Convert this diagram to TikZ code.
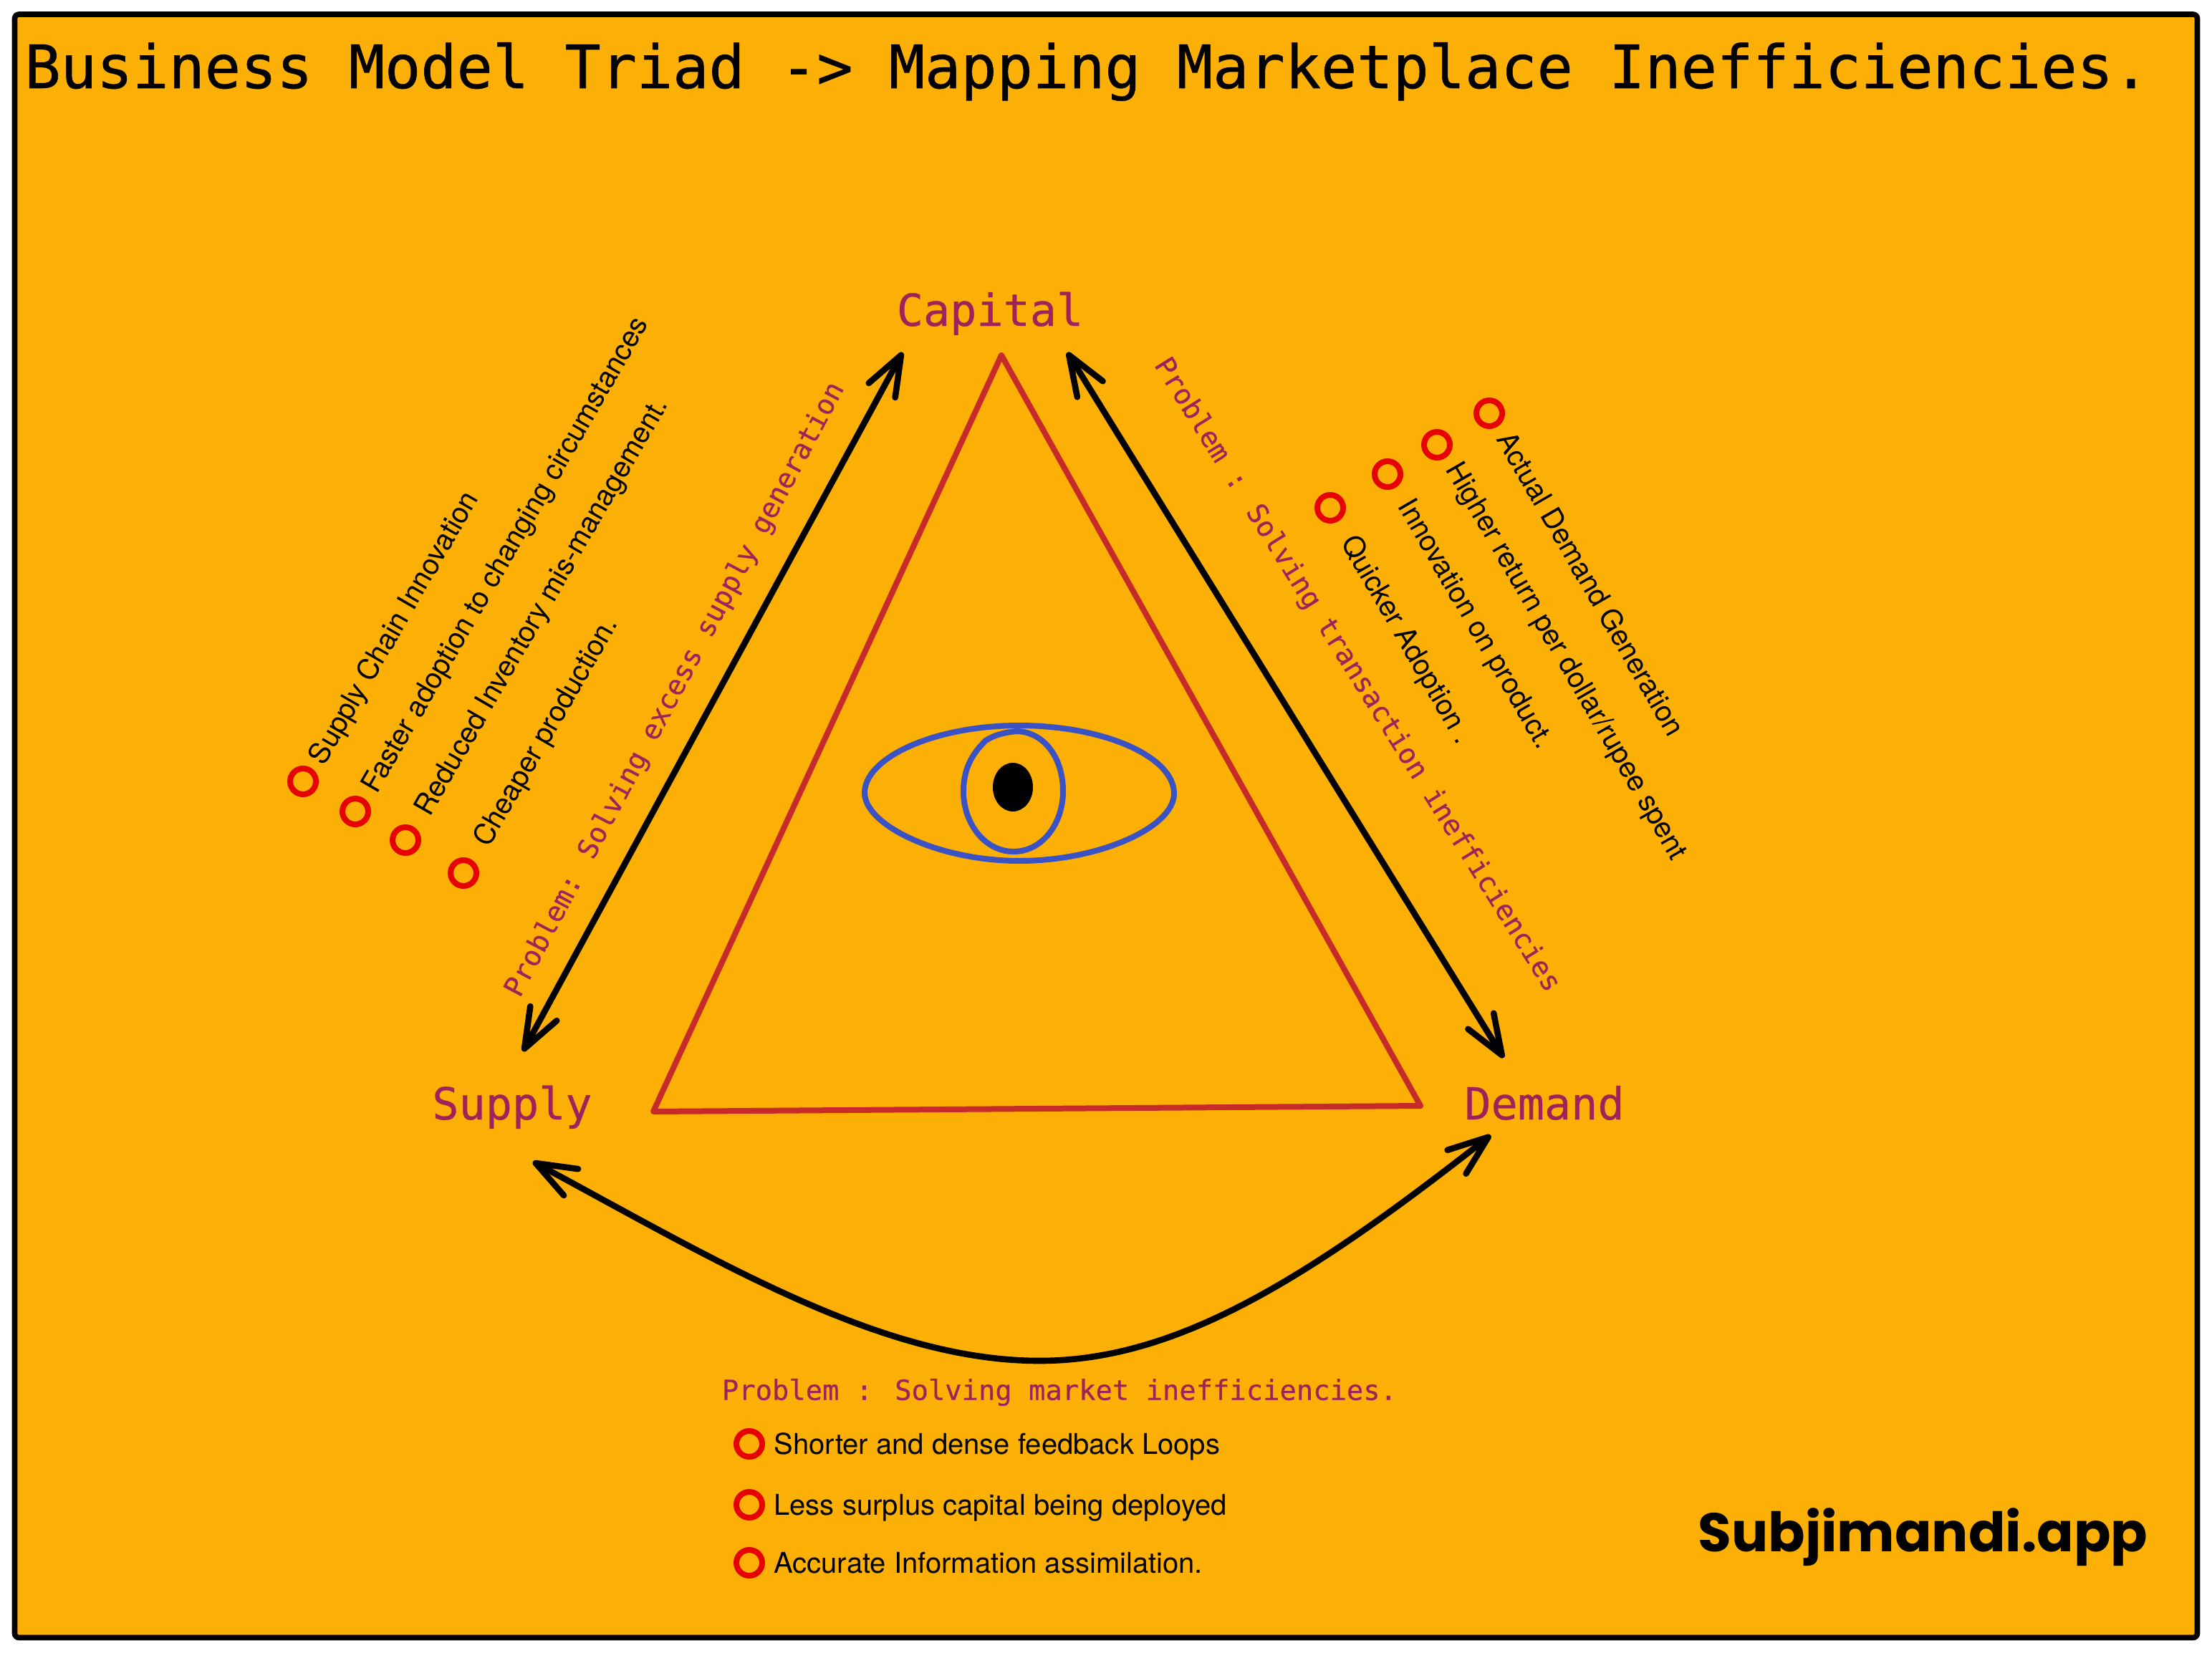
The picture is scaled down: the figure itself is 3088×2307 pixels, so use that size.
\documentclass[tikz,border=0pt]{standalone}
\usepackage{fontspec}
\setmainfont{TeX Gyre Heros}
\setmonofont{DejaVu Sans Mono}
\newfontfamily\brandfont{Poppins}
\newfontfamily\headmono[FakeBold=0.7]{DejaVu Sans Mono}
\newfontfamily\labelmono[FakeBold=0.5]{DejaVu Sans Mono}
\usetikzlibrary{arrows.meta}
\definecolor{pagefill}{HTML}{FCB005}
\definecolor{labelred}{HTML}{A0225A}
\definecolor{triangred}{HTML}{C62B2A}
\definecolor{eyeblue}{HTML}{3A52C4}
\definecolor{ringred}{HTML}{E60000}
\tikzset{
  x=0.5pt, y=-0.5pt,
  frame/.style={draw=black, line width=3.8pt, fill=pagefill, rounded corners=3pt},
  titletext/.style={font=\headmono\fontsize{41.75}{50}\selectfont, anchor=base west, inner sep=0pt},
  corner/.style={font=\labelmono\fontsize{30.9}{36}\selectfont, text=labelred, inner sep=0pt,
    text height=23.5pt, text depth=6.5pt},
  problem/.style={font=\labelmono\fontsize{19.4}{24}\selectfont, text=labelred, inner sep=0pt},
  item/.style={font=\fontsize{20}{24}\selectfont, text=black, inner sep=0pt,
    text height=14.5pt, text depth=4.3pt},
  rowitem/.style={item, anchor=west},
  ring/.style={circle, draw=ringred, line width=4pt, minimum size=18pt, inner sep=0pt},
  link/.style={draw=black, line width=4.3pt, line cap=round,
    {Straight Barb[length=28pt,width=21pt,round]}-{Straight Barb[length=28pt,width=21pt,round]}},
  triangle/.style={draw=triangred, line width=4pt, line join=round},
  eye/.style={draw=eyeblue, line width=4pt},
}
\begin{document}
\begin{tikzpicture}
  \useasboundingbox (0,0) rectangle (3088,2307);
  \fill[white] (0,0) rectangle (3088,2307);
  \path[frame] (20.5,20) rectangle (3067.5,2286.5);

  % heading and signature
  \node[titletext] (title) at (34,123) {Business Model Triad -> Mapping Marketplace Inefficiencies.};
  \node[anchor=base west, inner sep=0pt, font=\brandfont\bfseries\fontsize{38}{46}\selectfont] (brand) at (2370,2166) {Subjimandi.app};

  % the three corners of the triad
  \node[corner] (capital) at (1382,438) {Capital};
  \node[corner] (supply) at (715,1546) {Supply};
  \node[corner] (demand) at (2156,1546) {Demand};

  % free ends of the double arrows
  \coordinate (capLeft) at (1260,492);
  \coordinate (capRight) at (1490,492);
  \coordinate (supUp) at (730,1468);
  \coordinate (supDown) at (744,1622);
  \coordinate (demUp) at (2099,1477);
  \coordinate (demDown) at (2081,1585);
  \coordinate (sag) at (1451,1900);

  \draw[link] (supUp) -- (capLeft);
  \draw[link] (capRight) -- (demUp);
  \draw[link] (supDown) .. controls (1000,1760) and (1230,1900) .. (sag)
                        .. controls (1640,1900) and (1820,1790) .. (demDown);

  % central triangle
  \coordinate (apex) at (1398,496);
  \coordinate (baseL) at (912,1552);
  \coordinate (baseR) at (1983,1544);
  \draw[triangle] (apex) -- (baseL) -- (baseR) -- cycle;

  % eye
  \draw[eye] (1207,1107) .. controls (1207,1058) and (1304,1013) .. (1423,1013)
             .. controls (1540,1013) and (1639,1056) .. (1639,1108)
             .. controls (1639,1155) and (1535,1202) .. (1423,1202)
             .. controls (1310,1202) and (1207,1152) .. cycle;
  \draw[eye] (1345,1105) .. controls (1345,1068) and (1362,1048) .. (1376,1034)
             .. controls (1388,1026) and (1405,1022) .. (1420,1021)
             .. controls (1455,1022) and (1484,1055) .. (1484,1105)
             .. controls (1484,1150) and (1455,1189) .. (1415,1189)
             .. controls (1375,1189) and (1345,1150) .. cycle;
  \fill[black] (1414,1099) ellipse [x radius=14pt, y radius=17pt];

  % problem statements
  \node[problem, rotate=62] (probSupply) at (943,963) {Problem: Solving excess supply generation};
  \node[problem, rotate=-58] (probDemand) at (1894,943) {Problem : Solving transaction inefficiencies};
  \node[problem] (probMarket) at (1479,1944) {Problem : Solving market inefficiencies.};

  % supply side list
  \node[ring] (s1) at (423,1091) {};
  \node[ring] (s2) at (496,1133) {};
  \node[ring] (s3) at (566,1173) {};
  \node[ring] (s4) at (647,1219) {};
  \node[item, rotate=60] (st1) at (552,878) {Supply Chain Innovation};
  \node[item, rotate=60] (st2) at (707,776) {Faster adoption to changing circumstances};
  \node[item, rotate=60] (st3) at (758,848) {Reduced Inventory mis-management.};
  \node[item, rotate=60] (st4) at (764,1023) {Cheaper production.};

  % demand side list
  \node[ring] (d1) at (2079,577) {};
  \node[ring] (d2) at (2006,621) {};
  \node[ring] (d3) at (1937,662) {};
  \node[ring] (d4) at (1857,709) {};
  \node[item, rotate=-60] (dt1) at (2218,817) {Actual Demand Generation};
  \node[item, rotate=-60] (dt2) at (2185,924) {Higher return per dollar/rupee spent};
  \node[item, rotate=-60] (dt3) at (2058,872) {Innovation on product.};
  \node[item, rotate=-60] (dt4) at (1962,894) {Quicker Adoption .};

  % market list
  \node[ring] (m1) at (1046,2016) {};
  \node[ring] (m2) at (1046,2101) {};
  \node[ring] (m3) at (1046,2182) {};
  \node[rowitem] (mt1) at (1080,2020) {Shorter and dense feedback Loops};
  \node[rowitem] (mt2) at (1080,2105) {Less surplus capital being deployed};
  \node[rowitem] (mt3) at (1080,2186) {Accurate Information assimilation.};
\end{tikzpicture}
\end{document}
